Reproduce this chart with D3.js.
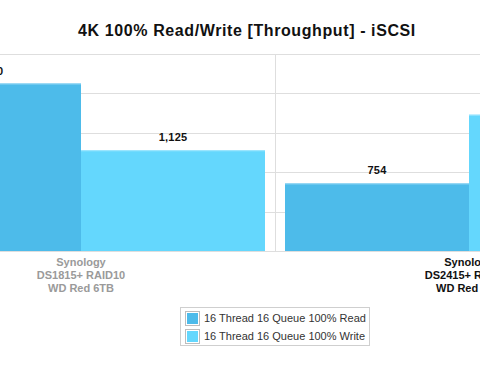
<!DOCTYPE html>
<html>
<head>
<meta charset="utf-8">
<script src="https://cdn.jsdelivr.net/npm/d3@7"></script>
<style>
  body { margin: 0; background: #fff; }
  svg { display: block; font-family: "Liberation Sans", Arial, sans-serif; }
  .grid line { stroke: #dedede; stroke-width: 1; }
  .title { font-size: 16px; font-weight: bold; fill: #111; letter-spacing: 0.6px; }
  .valueLabel { font-size: 11px; font-weight: bold; fill: #111; letter-spacing: 0.2px; }
  .catLabel { font-size: 11px; font-weight: bold; }
  .legendText { font-size: 11px; fill: #333; }
</style>
</head>
<body>
<div id="chart"></div>
<script>
// chart data
var categories = ["Synology DS1815+ RAID10 WD Red 6TB", "Synology DS2415+ RAID10 WD Red 6TB"];
var categoryLines = [["Synology", "DS1815+ RAID10", "WD Red 6TB"], ["Synology", "DS2415+ RAID10", "WD Red 6TB"]];
var seriesNames = ["16 Thread 16 Queue 100% Read", "16 Thread 16 Queue 100% Write"];
var readValues = [1870, 754];
var writeValues = [1125, 1522];
var yTicks = [0, 440, 880, 1320, 1760, 2200];

var width = 480, height = 370;
var colors = ["#4dbbea", "#64d7fd"];

var svg = d3.select("#chart").append("svg")
    .attr("width", width)
    .attr("height", height);

// the plot is panned: group centres fall at 81 and 469
var x = d3.scaleBand().domain(categories).range([-113, 663]);
var xSub = d3.scaleBand().domain(seriesNames).range([10, x.bandwidth() - 10]);
var y = d3.scaleLinear().domain([0, 2200]).range([251, 54]);

svg.append("text")
    .attr("class", "title")
    .attr("x", 247)
    .attr("y", 36)
    .attr("text-anchor", "middle")
    .text("4K 100% Read/Write [Throughput] - iSCSI");

// grid lines
var grid = svg.append("g").attr("class", "grid");
grid.selectAll("line.h").data(yTicks).enter().append("line")
    .attr("class", "h")
    .attr("x1", 0).attr("x2", width)
    .attr("y1", function (d) { return Math.round(y(d)) + 0.5; })
    .attr("y2", function (d) { return Math.round(y(d)) + 0.5; });

var bounds = categories.map(function (c) { return x(c); }).concat([x.range()[1]]);
grid.selectAll("line.v").data(bounds).enter().append("line")
    .attr("class", "v")
    .attr("x1", function (d) { return Math.round(d) + 0.5; })
    .attr("x2", function (d) { return Math.round(d) + 0.5; })
    .attr("y1", y(2200)).attr("y2", y(0));

// bars
var rows = categories.map(function (c, i) {
    return [
        {cat: c, series: seriesNames[0], value: readValues[i], idx: 0},
        {cat: c, series: seriesNames[1], value: writeValues[i], idx: 1}
    ];
});
var bars = [].concat.apply([], rows);
var fmt = d3.format(",");

svg.selectAll("rect.bar").data(bars).enter().append("rect")
    .attr("class", "bar")
    .attr("x", function (d) { return x(d.cat) + xSub(d.series); })
    .attr("y", function (d) { return y(d.value); })
    .attr("width", xSub.bandwidth())
    .attr("height", function (d) { return y(0) - y(d.value); })
    .attr("fill", function (d) { return colors[d.idx]; });

// light top edge on each bar
svg.selectAll("line.edge").data(bars).enter().append("line")
    .attr("class", "edge")
    .attr("x1", function (d) { return x(d.cat) + xSub(d.series); })
    .attr("x2", function (d) { return x(d.cat) + xSub(d.series) + xSub.bandwidth(); })
    .attr("y1", function (d) { return y(d.value) + 0.5; })
    .attr("y2", function (d) { return y(d.value) + 0.5; })
    .attr("stroke", function (d) { return d.idx == 0 ? "#8ad3f3" : "#9fe6fe"; })
    .attr("stroke-width", 1);

svg.selectAll("text.valueLabel").data(bars).enter().append("text")
    .attr("class", "valueLabel")
    .attr("x", function (d) { return x(d.cat) + xSub(d.series) + xSub.bandwidth() / 2; })
    .attr("y", function (d) { return y(d.value) - 9; })
    .attr("text-anchor", "middle")
    .text(function (d) { return fmt(d.value); });

// category labels
var cat = svg.selectAll("text.catLabel").data(categories).enter().append("text")
    .attr("class", "catLabel")
    .attr("text-anchor", "middle")
    .attr("fill", function (d, i) { return i == 0 ? "#9a9a9a" : "#111"; })
    .attr("x", function (d) { return x(d) + x.bandwidth() / 2; })
    .attr("y", 266);
cat.selectAll("tspan").data(function (d, i) { return categoryLines[i]; }).enter().append("tspan")
    .attr("x", function () { return d3.select(this.parentNode).attr("x"); })
    .attr("dy", function (d, i) { return i == 0 ? 0 : 13; })
    .text(function (d) { return d; });

// legend
var legend = svg.append("g").attr("transform", "translate(180,307)");
legend.append("rect")
    .attr("x", 0.5).attr("y", 0.5)
    .attr("width", 189).attr("height", 38)
    .attr("fill", "#fff")
    .attr("stroke", "#cfcfcf");
var items = legend.selectAll("g.item").data(seriesNames).enter().append("g")
    .attr("class", "item")
    .attr("transform", function (d, i) { return "translate(5," + (4 + i * 18) + ")"; });
items.append("rect")
    .attr("x", 0.5).attr("y", 0.5)
    .attr("width", 14).attr("height", 14)
    .attr("fill", "#fff")
    .attr("stroke", "#bdbdbd");
items.append("rect")
    .attr("x", 2).attr("y", 2)
    .attr("width", 11).attr("height", 11)
    .attr("fill", function (d, i) { return colors[i]; });
items.append("text")
    .attr("class", "legendText")
    .attr("x", 19)
    .attr("y", 11)
    .text(function (d) { return d; });
</script>
</body>
</html>
